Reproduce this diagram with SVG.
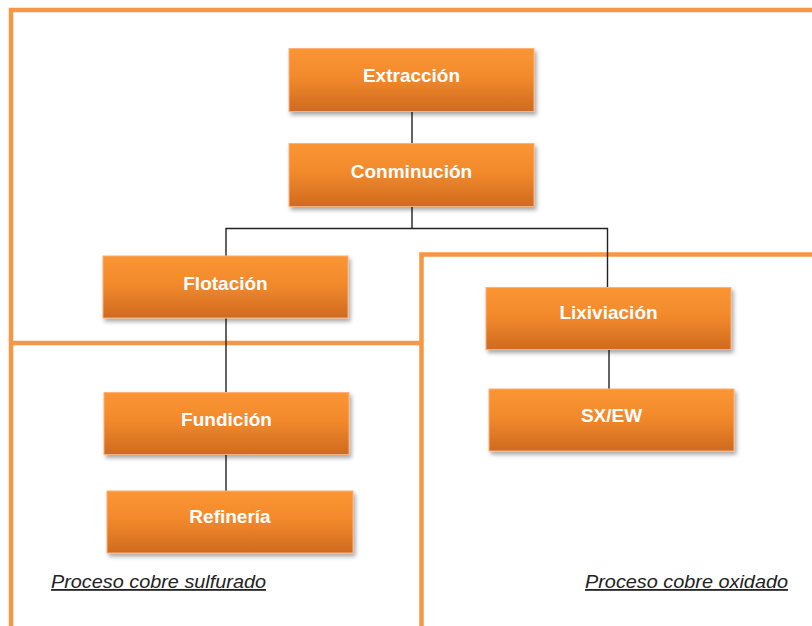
<svg xmlns="http://www.w3.org/2000/svg" width="812" height="626" viewBox="0 0 812 626">
<defs>
<linearGradient id="g" x1="0" y1="0" x2="0" y2="1">
<stop offset="0" stop-color="#FB9533"/>
<stop offset="0.45" stop-color="#F28A2C"/>
<stop offset="1" stop-color="#CF6A20"/>
</linearGradient>
<filter id="sh" x="-10%" y="-20%" width="125%" height="150%">
<feDropShadow dx="2" dy="3" stdDeviation="2" flood-color="#000" flood-opacity="0.35"/>
</filter>
<style>
.frame{fill:none;stroke:#F79646;stroke-width:4.5}
.box{fill:url(#g);stroke:#F9B27C;stroke-width:1;filter:url(#sh)}
.lbl{font-family:"Liberation Sans",Arial,sans-serif;font-weight:bold;font-size:19px;fill:#fff;text-anchor:middle}
.conn{fill:none;stroke:#222;stroke-width:1.4}
.cap{font-family:"Liberation Sans",Arial,sans-serif;font-style:italic;font-size:18px;fill:#222;text-decoration:underline}
</style>
</defs>
<rect width="812" height="626" fill="#fff"/>
<g id="frames">
<path class="frame" d="M11 626 V10 H812"/>
<path class="frame" d="M11 343 H421.5"/>
<path class="frame" d="M421.5 626 V254.5 H812"/>
</g>
<g id="connectors">
<path class="conn" d="M412 111 V143"/>
<path class="conn" d="M412 207 V228.5 M226 256 V228.5 H607.5 V287"/>
<path class="conn" d="M226 318 V392"/>
<path class="conn" d="M226 454 V491"/>
<path class="conn" d="M609 349 V389"/>
</g>
<g id="extraccion"><rect class="box" x="289" y="48.5" width="245" height="63"/><text class="lbl" x="411.5" y="81.5">Extracción</text></g>
<g id="conminucion"><rect class="box" x="289" y="143.5" width="245" height="63"/><text class="lbl" x="411.5" y="177.5">Conminución</text></g>
<g id="flotacion"><rect class="box" x="103" y="256" width="245" height="62"/><text class="lbl" x="225.5" y="289.5">Flotación</text></g>
<g id="lixiviacion"><rect class="box" x="486" y="287.5" width="245" height="62"/><text class="lbl" x="608.5" y="319">Lixiviación</text></g>
<g id="sxew"><rect class="box" x="489" y="389" width="245" height="62"/><text class="lbl" x="611.5" y="422">SX/EW</text></g>
<g id="fundicion"><rect class="box" x="104" y="392.5" width="245" height="62"/><text class="lbl" x="226.5" y="425.5">Fundición</text></g>
<g id="refineria"><rect class="box" x="107" y="491" width="246" height="62"/><text class="lbl" x="230" y="523">Refinería</text></g>
<g id="captions">
<text class="cap" x="51" y="588" textLength="215" lengthAdjust="spacingAndGlyphs">Proceso cobre sulfurado</text>
<text class="cap" x="585" y="588" textLength="203" lengthAdjust="spacingAndGlyphs">Proceso cobre oxidado</text>
</g>
</svg>
